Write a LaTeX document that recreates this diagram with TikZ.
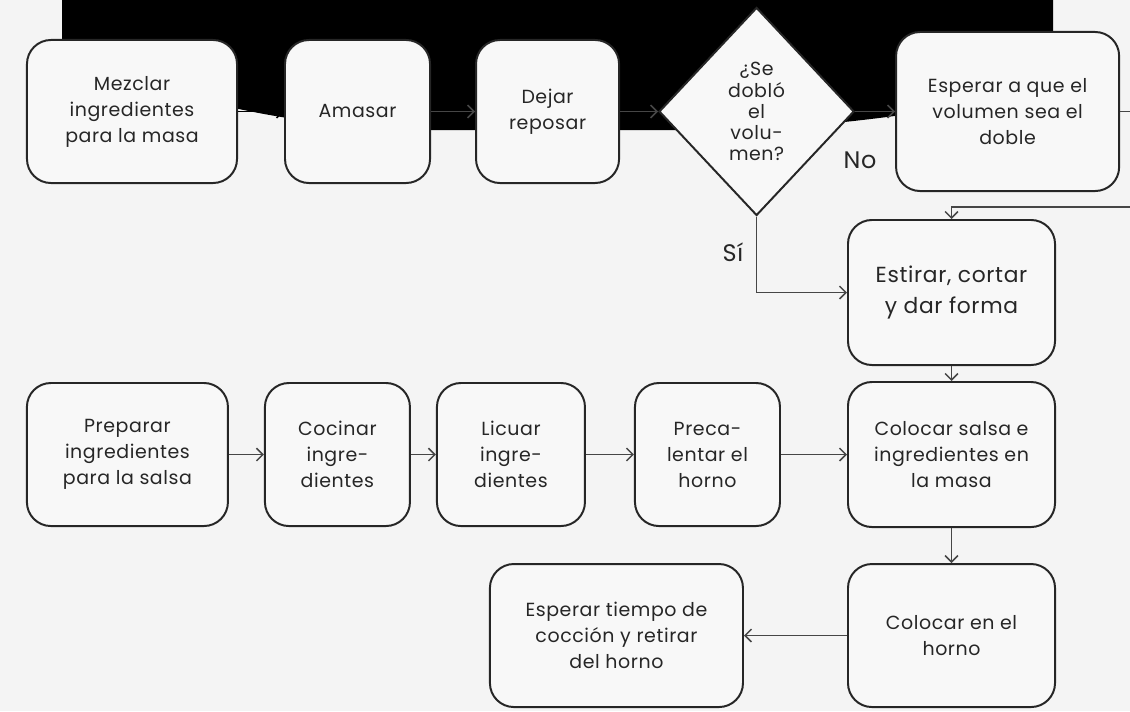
\documentclass[tikz,border=0pt]{standalone}
\usepackage{fontspec}
\setmainfont{Poppins}[LetterSpace=3]
\usepackage{tikz}
\usetikzlibrary{positioning}
\usetikzlibrary{shapes,arrows.meta,positioning}
\definecolor{fondo}{RGB}{244,244,244}
\definecolor{relleno}{RGB}{248,248,248}
\definecolor{borde}{RGB}{38,38,38}
\definecolor{flecha}{RGB}{70,70,70}
\tikzstyle{block} = [rectangle, draw=borde, line width=1.4pt, fill=relleno,
align=center, rounded corners=0.6cm, text=black!85,
font=\fontsize{13.5}{18.5}\selectfont, minimum width=3.625cm, minimum height=3.575cm]
\tikzstyle{decision} = [diamond, draw=borde, line width=1.4pt, fill=relleno,
align=center, inner sep=0pt, text=black!85,
font=\fontsize{13.5}{15}\selectfont, minimum width=4.875cm, minimum height=5.2cm]
\tikzstyle{line} = [draw=flecha, line width=1.1pt, -{Straight Barb[length=1.6mm, width=3.2mm]}]
\tikzstyle{etiqueta} = [font=\fontsize{17}{20}\selectfont, text=black!85]

\begin{document}
\begin{tikzpicture}[x=0.025cm, y=-0.025cm]
    \fill[fondo] (0,0) rectangle (1130,711);
    \useasboundingbox (0,0) rectangle (1130,711);
    % black band behind the first row
    \fill[black] (62,0) -- (1053,0) -- (1053,75)
        .. controls (1000,105) and (900,118) .. (760,130) -- (430,130)
        .. controls (330,128) and (260,115) .. (200,100) -- (62,80) -- cycle;

    % nodes
    \node [block, minimum width=5.25cm] (mezclar) at (132,111.5) {Mezclar\\ingredientes\\para la masa};
    \node [block, right=1.15cm of mezclar] (amasar) {Amasar};
    \node [block, minimum width=3.575cm, right=1.1cm of amasar] (reposar) {Dejar\\reposar};
    \node [decision, right=0.95cm of reposar] (doblo) {¿Se\\dobló\\el\\volu-\\men?};
    \node [block, minimum width=5.575cm, minimum height=3.975cm, right=1cm of doblo] (esperar) {Esperar a que el\\volumen sea el\\doble};
    \node [block, minimum width=5.175cm, minimum height=3.625cm, font=\fontsize{15.5}{22}\selectfont] (estirar) at (951.5,292.5) {Estirar, cortar\\y dar forma};
    \node [block, minimum width=5.175cm, minimum height=3.625cm, below=0.375cm of estirar] (colsalsa) {Colocar salsa e\\ingredientes en\\la masa};
    \node [block, minimum width=5.175cm, below=0.875cm of colsalsa] (colhorno) {Colocar en el\\horno};
    \node [block, left=1.65cm of colsalsa] (precalentar) {Preca-\\lentar el\\horno};
    \node [block, minimum width=3.7cm, left=1.2cm of precalentar] (licuar) {Licuar\\ingre-\\dientes};
    \node [block, left=0.625cm of licuar] (cocinar) {Cocinar\\ingre-\\dientes};
    \node [block, minimum width=5.025cm, left=0.875cm of cocinar] (preparar) {Preparar\\ingredientes\\para la salsa};
    \node [block, minimum width=6.325cm, left=2.575cm of colhorno] (tiempo) {Esperar tiempo de\\cocción y retirar\\del horno};
    \node [etiqueta] (no) at (860,160) {No};
    \node [etiqueta] (si) at (733,252) {Sí};
    \coordinate (vuelta) at (1145,207);

    % edges
         \path [line, draw=black] (mezclar) -- (amasar);
         \path [line] (amasar) -- (reposar);
         \path [line] (reposar) -- (doblo);
         \path [line] (doblo) -- (esperar);
         \path [line] (doblo.south) |- (estirar.west);
         \path [line] (esperar.east) -| (vuelta) -| (estirar.north);
         \path [line] (estirar) -- (colsalsa);
         \path [line] (preparar) -- (cocinar);
         \path [line] (cocinar) -- (licuar);
         \path [line] (licuar) -- (precalentar);
         \path [line] (precalentar) -- (colsalsa);
         \path [line] (colsalsa) -- (colhorno);
         \path [line] (colhorno) -- (tiempo);

  \end{tikzpicture}
\end{document}
